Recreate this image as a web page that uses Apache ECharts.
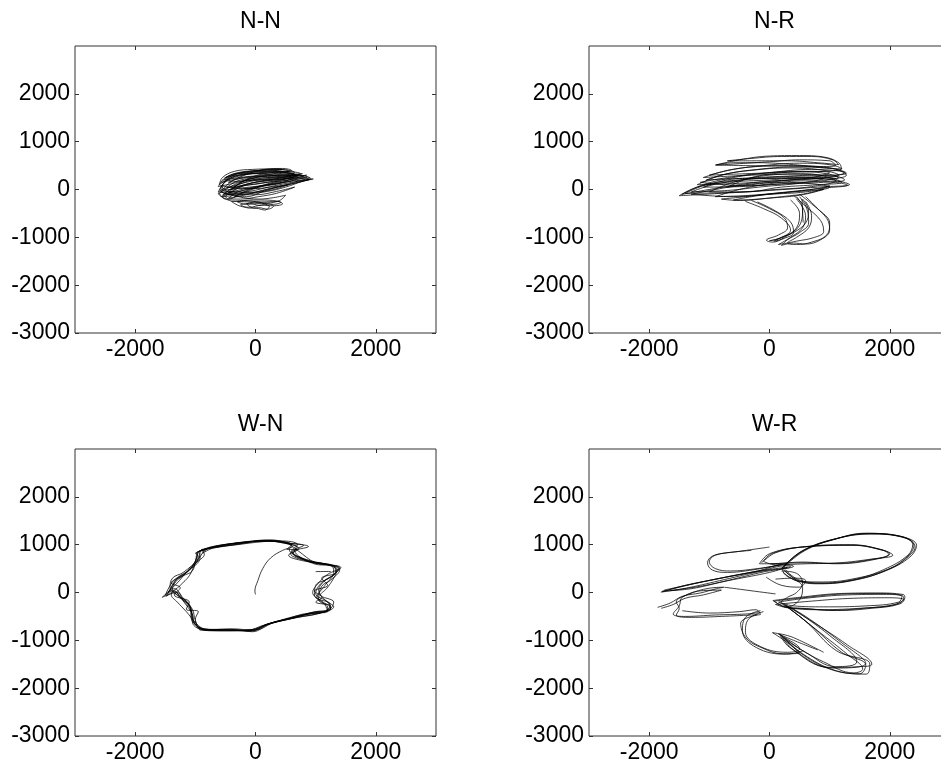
<!DOCTYPE html>
<html>
<head>
<meta charset="utf-8">
<script src="https://cdn.jsdelivr.net/npm/echarts@6/dist/echarts.min.js"></script>
<style>html,body{margin:0;padding:0;background:#fff}#c{width:941px;height:769px}</style>
</head>
<body>
<div id="c"></div>
<script>
// ---- panel titles and ticks ----
const titles = ['N-N', 'N-R', 'W-N', 'W-R'];
const xTicks = [-2000, 0, 2000];
const yTicks = [-3000, -2000, -1000, 0, 1000, 2000];
const axisMin = -3000, axisMax = 3000;

// ---- N-N trajectories ----
const nnPaths = [
  [[-550,100],[-400,280],[-100,360],[250,380],[550,340],[700,250],[500,150],[100,80],[-300,20],[-560,-20],[-550,100]],
  [[-600,0],[-450,220],[-150,320],[200,350],[450,330],[720,300],[400,200],[50,120],[-250,60],[-500,-80],[-600,0]],
  [[-500,-150],[-300,100],[0,250],[400,300],[780,330],[500,220],[150,100],[-200,-50],[-450,-200],[-500,-150]],
  [[-300,-50],[100,80],[500,160],[960,220],[600,120],[200,10],[-200,-120],[-450,-180],[-300,-50]],
  [[-580,-60],[-420,150],[-200,290],[100,410],[450,440],[600,400],[300,330],[0,250],[-300,130],[-580,-60]],
  [[-400,-250],[-200,-230],[100,-260],[380,-250],[450,-300],[300,-340],[100,-330],[-100,-370],[-250,-350],[-400,-250]],
  [[-150,-300],[0,-260],[150,-300],[230,-360],[150,-430],[50,-400],[-60,-380],[-150,-300]],
  [[-620,-80],[-560,-150],[-350,-120],[-100,-90],[200,-40],[500,50],[800,180],[900,210],[650,130],[300,30],[-100,-60],[-450,-40],[-620,-80]],
  [[-520,200],[-300,330],[0,390],[300,420],[500,410],[650,360],[450,320],[150,300],[-200,260],[-520,200]],
  [[-480,40],[-300,180],[-50,230],[250,250],[550,260],[850,300],[550,200],[200,150],[-150,90],[-480,40]],
  [[-560,-150],[-450,-100],[-200,-170],[50,-200],[300,-170],[500,-120],[400,-230],[200,-280],[-100,-260],[-400,-240],[-560,-150]],
  [[-400,0],[-200,180],[100,320],[400,360],[650,320],[400,240],[100,180],[-150,110],[-400,0]],
  [[-620,60],[-500,250],[-250,340],[50,330],[350,290],[600,280],[300,220],[-100,200],[-400,120],[-620,60]],
  [[-450,-100],[-250,50],[0,150],[300,200],[650,250],[400,130],[100,60],[-200,-20],[-450,-100]],
  [[-600,-20],[-480,180],[-200,300],[150,360],[500,380],[750,330],[450,260],[100,210],[-250,120],[-600,-20]],
  [[-550,-120],[-350,60],[-50,200],[300,260],[700,300],[920,230],[600,150],[250,60],[-100,-40],[-550,-120]],
  [[-500,250],[-250,350],[100,400],[400,420],[550,390],[300,350],[0,330],[-300,300],[-500,250]],
  [[-620,-30],[-500,-200],[-250,-200],[50,-150],[350,-80],[650,50],[350,-40],[0,-110],[-350,-110],[-620,-30]],
  [[-450,150],[-200,250],[150,280],[500,300],[800,280],[500,230],[150,200],[-200,180],[-450,150]],
  [[-350,-150],[-100,-20],[200,100],[550,200],[900,240],[500,100],[150,-30],[-150,-150],[-350,-150]],
  [[-580,80],[-450,-50],[-250,-80],[0,-60],[300,0],[550,100],[300,60],[0,20],[-300,30],[-580,80]],
  [[-300,-260],[-100,-220],[150,-220],[420,-270],[300,-310],[100,-290],[-150,-310],[-300,-260]],
  [[-250,-320],[-100,-290],[60,-330],[200,-300],[300,-350],[200,-410],[50,-380],[-100,-390],[-250,-320]],
  [[-600,100],[-550,250],[-350,380],[-50,420],[300,430],[450,420],[200,380],[-100,350],[-400,250],[-600,100]],
  [[-570,150],[-420,300],[-150,380],[200,400],[520,360],[680,300],[420,280],[120,270],[-250,230],[-570,150]],
  [[-530,-100],[-380,20],[-120,120],[200,180],[600,230],[860,260],[550,170],[180,90],[-200,10],[-530,-100]]
];

// ---- N-R trajectories ----
const nrPaths = [
  [[-1500,-130],[-1200,50],[-700,150],[0,200],[600,250],[1330,100],[800,50],[0,-20],[-800,-80],[-1500,-130]],
  [[-900,510],[-500,620],[0,700],[500,710],[900,680],[1150,560],[1200,430],[900,450],[400,520],[-200,560],[-600,560],[-900,510]],
  [[-1100,250],[-700,400],[-200,480],[400,500],[900,470],[1280,340],[1000,300],[400,320],[-300,300],[-1100,250]],
  [[-1200,100],[-800,300],[-300,400],[300,450],[800,420],[1150,300],[700,220],[100,180],[-500,130],[-1200,100]],
  [[-1000,-50],[-600,150],[0,300],[600,330],[1000,250],[1200,150],[800,100],[200,50],[-400,-50],[-1000,-50]],
  [[-1300,-100],[-900,0],[-400,100],[200,150],[700,120],[1000,50],[600,-50],[0,-100],[-600,-150],[-1300,-100]],
  [[-800,-200],[-400,-150],[100,-80],[600,-30],[900,0],[500,-120],[0,-180],[-500,-230],[-800,-200]],
  [[-1000,300],[-600,420],[-100,500],[500,550],[1000,520],[1200,430],[900,380],[300,360],[-400,330],[-1000,300]],
  [[-700,50],[-300,250],[200,350],[700,380],[1000,350],[700,250],[200,180],[-300,100],[-700,50]],
  [[-880,510],[-500,540],[0,580],[500,620],[1000,600],[1100,500],[800,480],[200,490],[-400,500],[-880,510]],
  [[-1150,150],[-700,250],[-200,330],[400,380],[950,330],[1250,200],[900,150],[300,120],[-400,80],[-1150,150]],
  [[-1400,-80],[-1000,120],[-500,200],[100,260],[700,280],[1100,180],[700,60],[100,0],[-600,-60],[-1400,-80]],
  [[-1450,-100],[-1100,100],[-600,250],[0,350],[700,420],[1250,350],[900,250],[300,200],[-400,120],[-1450,-100]],
  [[-1050,200],[-700,330],[-200,420],[400,470],[1000,450],[1280,300],[950,220],[300,230],[-400,230],[-1050,200]],
  [[-900,-150],[-500,0],[0,120],[600,180],[1100,150],[1300,90],[900,30],[300,-50],[-300,-120],[-900,-150]],
  [[-1100,50],[-700,200],[-200,250],[300,280],[800,300],[1150,250],[800,170],[200,120],[-500,60],[-1100,50]],
  [[-700,600],[-300,650],[200,690],[700,690],[1050,620],[1150,520],[800,560],[300,600],[-300,600],[-700,600]],
  [[-1300,-50],[-1000,80],[-600,180],[-100,230],[500,250],[900,230],[500,130],[-100,60],[-700,-20],[-1300,-50]],
  [[-600,-220],[-200,-130],[300,-60],[800,20],[1000,80],[700,-60],[200,-150],[-300,-210],[-600,-220]],
  [[-400,-250],[-100,-400],[200,-600],[350,-850],[200,-1000],[0,-1070],[100,-1050],[300,-950],[500,-750],[550,-400],[450,-150]],
  [[500,-100],[700,-300],[950,-600],[1000,-850],[850,-1050],[600,-1140],[400,-1120],[200,-1170],[300,-1050],[500,-900],[650,-700],[620,-400],[500,-150]],
  [[400,-120],[600,-350],[850,-650],[900,-880],[750,-1000],[450,-1080],[250,-1130],[150,-1150],[350,-1000],[550,-800],[600,-550],[450,-200]],
  [[-300,-230],[0,-400],[250,-600],[300,-800],[150,-950],[-50,-1060],[50,-1100],[250,-1000],[450,-800],[500,-500],[350,-220]],
  [[-200,-260],[100,-450],[350,-680],[400,-900],[250,-1020],[80,-1080],[200,-1000],[400,-900],[600,-700],[650,-450],[550,-200]],
  [[600,-150],[800,-400],[1000,-700],[950,-950],[700,-1100],[450,-1150],[300,-1120],[450,-1000],[650,-800],[700,-550],[600,-250]],
  [[540,-200],[550,-450],[560,-690]]
];

// ---- W-N trajectories ----
const wnPaths = [
  [[-943,860],[-700,960],[-180,1050],[190,1075],[520,1020],[690,950],[580,820],[900,640],[1230,570],[1380,500],[1270,320],[1130,110],[1020,-100],[1240,-240],[1180,-380],[960,-410],[580,-550],[190,-660],[-30,-790],[-370,-760],[-810,-780],[-1030,-620],[-1080,-310],[-1250,-100],[-1360,40],[-1500,-60],[-1360,250],[-1140,430],[-920,740],[-943,860]],
  [[-900,900],[-650,940],[-200,1030],[150,1090],[450,1040],[800,980],[650,880],[950,610],[1280,540],[1300,400],[1150,250],[1050,50],[1150,-150],[1300,-300],[1100,-420],[900,-450],[500,-560],[100,-700],[-100,-780],[-450,-790],[-850,-760],[-980,-650],[-1150,-400],[-1300,-200],[-1400,-50],[-1250,150],[-1100,350],[-1000,600],[-850,800],[-900,900]],
  [[-980,840],[-800,920],[-300,1000],[100,1060],[400,1080],[700,1000],[600,860],[850,680],[1150,600],[1420,520],[1200,380],[1050,200],[950,0],[1100,-180],[1250,-320],[1050,-440],[700,-520],[300,-620],[0,-760],[-300,-800],[-750,-800],[-1000,-680],[-1050,-450],[-1200,-180],[-1300,0],[-1550,-100],[-1300,200],[-1180,380],[-1000,650],[-980,840]],
  [[-860,880],[-600,980],[-100,1070],[250,1100],[600,1000],[720,920],[550,780],[800,660],[1200,580],[1350,460],[1300,300],[1180,80],[1080,-50],[1300,-200],[1220,-360],[1000,-400],[620,-530],[250,-640],[-50,-820],[-400,-770],[-780,-770],[-1050,-600],[-1100,-250],[-1300,-50],[-1420,100],[-1380,300],[-1200,420],[-950,700],[-860,880]],
  [[-1000,820],[-750,950],[-250,1040],[300,1090],[550,1010],[650,930],[700,880],[1000,620],[1300,560],[1400,480],[1250,260],[1100,130],[1050,-150],[1200,-300],[1150,-420],[900,-430],[450,-580],[150,-680],[-100,-810],[-500,-780],[-900,-790],[-1000,-580],[-1050,-350],[-1200,-120],[-1350,80],[-1450,0],[-1300,300],[-1100,480],[-950,760],[-1000,820]],
  [[-920,870],[-680,950],[-150,1060],[220,1080],[560,1030],[880,960],[620,850],[880,650],[1250,570],[1360,480],[1220,300],[1000,150],[980,-50],[1150,-250],[1200,-400],[1000,-420],[600,-540],[200,-670],[-60,-800],[-420,-780],[-820,-770],[-1010,-640],[-1100,-280],[-1280,-80],[-1380,60],[-1320,260],[-1120,440],[-940,720],[-920,870]],
  [[-960,850],[-720,940],[-220,1040],[120,1070],[480,1060],[600,980],[560,900],[820,700],[1180,590],[1400,510],[1280,350],[1080,180],[1000,-20],[1200,-200],[1250,-350],[1020,-420],[650,-500],[280,-640],[20,-780],[-330,-790],[-780,-790],[-1040,-660],[-1070,-380],[-1230,-130],[-1340,20],[-1480,-80],[-1330,220],[-1160,400],[-980,700],[-960,850]],
  [[-950,850],[-820,900],[-880,820],[-700,930],[-300,1010],[150,1080],[600,1000],[520,900],[700,900],[620,820],[900,650],[1300,560],[1330,420],[1100,300],[1200,150],[980,30],[1100,-100],[1000,-200],[1250,-280],[1150,-400],[700,-520],[250,-650],[-60,-780],[-500,-800],[-900,-770],[-1000,-560],[-950,-400],[-1150,-350],[-1100,-200],[-1350,-50],[-1250,100],[-1400,200],[-1200,350],[-1050,450],[-1000,650],[-950,850]],
  [[0,-40],[-10,30],[40,250],[120,500],[250,720],[450,880],[620,950]],
  [[1000,437],[1250,440]]
];

// ---- W-R trajectories ----
const wrPaths = [
  [[222,531],[556,881],[1111,1125],[1667,1230],[2222,1160],[2444,986],[2333,741],[1944,461],[1389,252],[833,182],[444,252],[222,461],[222,531]],
  [[250,560],[600,900],[1150,1140],[1700,1220],[2150,1180],[2380,1000],[2300,780],[1900,480],[1400,270],[850,200],[480,270],[260,480]],
  [[200,500],[520,850],[1050,1100],[1600,1240],[2250,1140],[2420,950],[2280,720],[2000,500],[1450,300],[900,220],[500,230],[230,420]],
  [[230,520],[580,870],[1100,1120],[1650,1235],[2200,1170],[2400,990],[2300,760],[1950,470],[1400,260],[850,190],[460,260],[240,470]],
  [[-167,601],[0,811],[556,951],[1389,986],[1889,881],[2000,811],[1667,671],[1111,601],[556,636],[0,601],[-167,601]],
  [[-100,650],[100,830],[600,960],[1350,1000],[1850,900],[2050,780],[1700,700],[1150,620],[600,600],[100,580],[-100,650]],
  [[-130,620],[50,820],[580,955],[1380,990],[1870,890],[1980,800],[1650,680],[1100,610],[560,620],[20,600]],
  [[-300,880],[-700,830],[-950,760],[-1030,620],[-950,470],[-700,420],[-400,450],[100,560],[300,620]],
  [[0,950],[-500,860],[-900,780],[-1000,640],[-900,500],[-650,450],[-200,500],[200,580]],
  [[-1806,7],[-1400,150],[-800,300],[-200,450],[250,580],[400,550],[-100,430],[-700,250],[-1300,80],[-1780,30]],
  [[-1750,50],[-1200,200],[-600,350],[0,480],[300,530],[0,420],[-600,270],[-1200,120],[-1650,40]],
  [[-1780,20],[-1300,170],[-700,330],[-100,470],[280,560],[350,540],[-150,440],[-750,270],[-1350,100],[-1790,10]],
  [[56,-168],[500,-100],[1200,-20],[1800,-10],[2222,-42],[2250,-98],[2167,-238],[1700,-330],[1111,-377],[600,-340],[278,-308],[56,-168]],
  [[150,-200],[600,-120],[1300,-50],[1900,-40],[2200,-80],[2150,-200],[1600,-280],[900,-300],[400,-280],[150,-200]],
  [[100,-250],[700,-180],[1400,-120],[2000,-110],[2230,-150],[2050,-260],[1500,-330],[800,-360],[300,-320],[100,-250]],
  [[80,-180],[550,-110],[1250,-30],[1850,-20],[2200,-60],[2230,-120],[2100,-250],[1650,-320],[1050,-370],[550,-330],[250,-300],[80,-180]],
  [[-1860,-310],[-1650,-220],[-1450,-80],[-1150,-10],[-880,80],[-760,110],[-1000,90],[-1350,-40],[-1550,-200],[-1500,-330],[-1550,-470],[-1300,-520],[-800,-500],[-300,-470],[-150,-460],[-220,-360],[-500,-400],[-1000,-430],[-1450,-380]],
  [[-1800,-330],[-1600,-250],[-1400,-120],[-1100,-50],[-800,50],[-1100,40],[-1450,-100],[-1500,-280],[-1600,-450],[-1400,-500],[-900,-470],[-400,-450],[-180,-420]],
  [[-750,110],[100,-30]],
  [[-150,-380],[-400,-520],[-450,-800],[-220,-1150],[280,-1290],[560,-1220]],
  [[-100,-400],[-350,-560],[-400,-830],[-150,-1130],[300,-1250],[500,-1180],[200,-900],[150,-870],[400,-1000],[800,-1200]],
  [[-200,-470],[-480,-640],[-390,-950],[-120,-1160],[220,-1280],[500,-1270],[300,-1050],[50,-840],[300,-900],[500,-1000],[900,-1250]],
  [[222,-238],[600,-600],[1111,-1216],[1667,-1496],[1611,-1706],[1111,-1636],[556,-1286],[167,-867],[333,-1146],[1000,-1566],[1500,-1550],[1700,-1500],[1300,-1100],[700,-600],[250,-250]],
  [[300,-300],[800,-800],[1300,-1300],[1550,-1600],[1400,-1680],[900,-1450],[400,-1100],[250,-950],[600,-1250],[1100,-1550],[1450,-1450],[1000,-900],[400,-350]],
  [[250,-260],[700,-700],[1200,-1250],[1600,-1520],[1500,-1700],[1000,-1600],[500,-1250],[200,-900],[400,-1200],[1050,-1580],[1600,-1480],[1200,-1050],[600,-500],[280,-270]],
  [[200,450],[450,400],[550,200],[450,0],[300,-100],[200,-200],[300,-300],[500,-150],[550,100],[400,300],[250,450]],
  [[-56,322],[200,150],[500,112],[600,250],[400,300],[100,280]]
];

const panelPaths = [nnPaths, nrPaths, wnPaths, wrPaths];

// ---- layout ----
const gridBoxes = [
  {left: 75, top: 46, width: 361, height: 287},
  {left: 589, top: 46, width: 361, height: 287},
  {left: 75, top: 449, width: 361, height: 287},
  {left: 589, top: 449, width: 361, height: 287}
];
const FONT = 'Liberation Sans, Arial, sans-serif';
const FS = 23;

const grid = [], xAxis = [], yAxis = [], series = [], title = [];
gridBoxes.forEach((b, g) => {
  grid.push(Object.assign({show: true, borderColor: '#333', borderWidth: 1, backgroundColor: 'transparent', outerBoundsMode: 'none', containLabel: false}, b));
  title.push({text: titles[g], left: b.left + 180.5, top: b.top - 41, textAlign: 'center',
    textStyle: {fontFamily: FONT, fontSize: FS, fontWeight: 'normal', color: '#000'}});
  const tick = {show: true, inside: true, length: 4, lineStyle: {color: '#333', width: 1}};
  const line = {show: false, onZero: false};
  xAxis.push({gridIndex: g, type: 'value', position: 'bottom', min: axisMin, max: axisMax,
    axisLine: line, splitLine: {show: false},
    axisTick: Object.assign({customValues: xTicks}, tick),
    axisLabel: {customValues: xTicks, formatter: v => String(v), fontFamily: FONT, fontSize: FS, color: '#000', margin: 5}});
  xAxis.push({gridIndex: g, type: 'value', position: 'top', min: axisMin, max: axisMax,
    axisLine: line, splitLine: {show: false},
    axisTick: Object.assign({customValues: xTicks}, tick), axisLabel: {show: false}});
  yAxis.push({gridIndex: g, type: 'value', position: 'left', min: axisMin, max: axisMax,
    axisLine: line, splitLine: {show: false},
    axisTick: Object.assign({customValues: yTicks}, tick),
    axisLabel: {customValues: yTicks, formatter: v => String(v), fontFamily: FONT, fontSize: FS, color: '#000', margin: 5}});
  yAxis.push({gridIndex: g, type: 'value', position: 'right', min: axisMin, max: axisMax,
    axisLine: line, splitLine: {show: false},
    axisTick: Object.assign({customValues: yTicks}, tick), axisLabel: {show: false}});
  panelPaths[g].forEach(p => {
    series.push({type: 'line', xAxisIndex: 2 * g, yAxisIndex: 2 * g, data: p, smooth: 0.4,
      showSymbol: false, symbol: 'none', silent: true,
      lineStyle: {color: 'rgba(0,0,0,0.75)', width: 1}});
  });
});

const chart = echarts.init(document.getElementById('c'), null, {renderer: 'canvas'});
chart.setOption({animation: false, backgroundColor: '#fff', title, grid, xAxis, yAxis, series});
</script>
</body>
</html>
